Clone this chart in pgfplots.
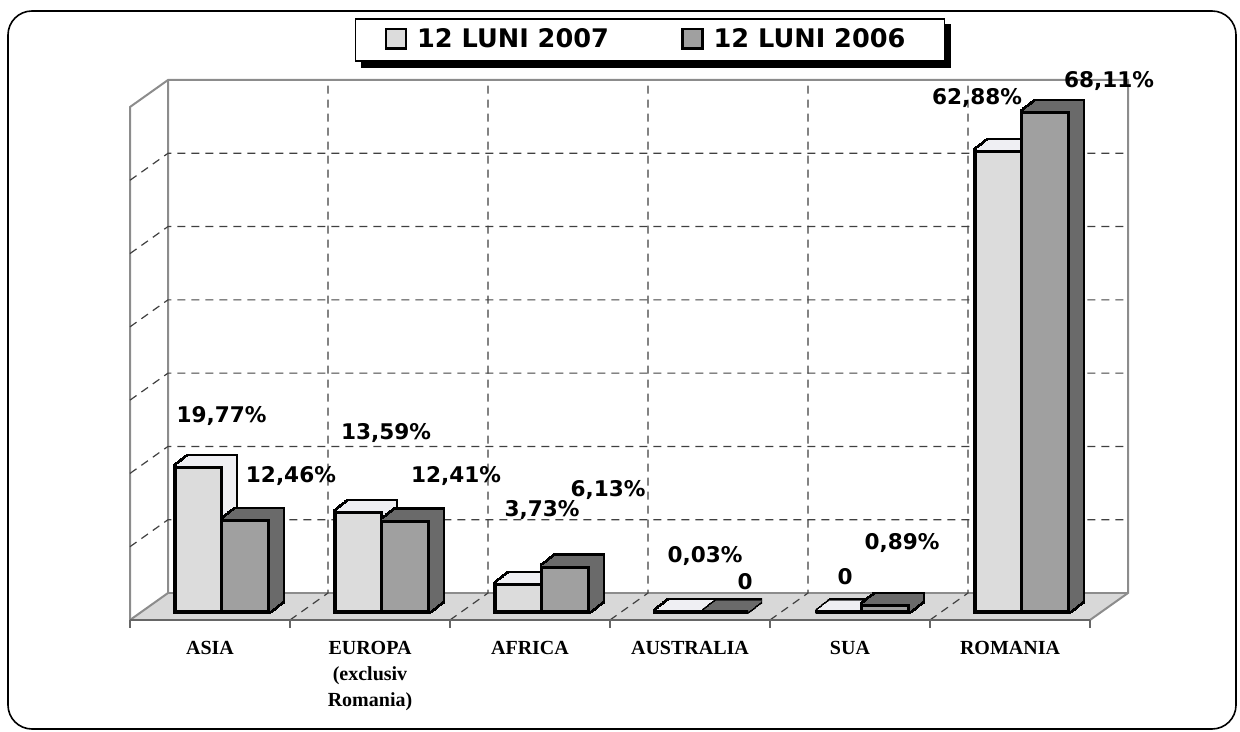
\documentclass[border=0pt]{standalone}
\usepackage{pgfplots}
\pgfplotsset{compat=1.18}
\usepackage{fontspec}
\newfontfamily\djv{DejaVu Sans}
\newfontfamily\tms{Liberation Serif}
\definecolor{frontA}{HTML}{DCDCDC}
\definecolor{sideA}{HTML}{EFEFF3}
\definecolor{frontB}{HTML}{A0A0A0}
\definecolor{sideB}{HTML}{6A6A6A}
\definecolor{floorc}{HTML}{D8D8D8}
\definecolor{wallc}{HTML}{8C8C8C}
\definecolor{gridc}{HTML}{404040}
\tikzset{
  exb/.style={preaction={fill=black,draw=black,line width=2.6pt,transform canvas={shift={(#1*0.35pt,#1*0.275pt)}}}},
  exA/.style={preaction={fill=sideA,draw=sideA,line width=0.5pt,transform canvas={shift={(#1*0.35pt,#1*0.275pt)}}}},
  exB/.style={preaction={fill=sideB,draw=sideB,line width=0.5pt,transform canvas={shift={(#1*0.35pt,#1*0.275pt)}}}},
  bar07/.style={exb/.list={1,...,20},exA/.list={1,...,20},fill=frontA,draw=black,line width=1.5pt},
  bar06/.style={exb/.list={1,...,20},exB/.list={1,...,20},fill=frontB,draw=black,line width=1.5pt},
  back/.style={shift={(13.25pt,9.5pt)}},
  front/.style={shift={(-5.75pt,-4pt)}},
  griddash/.style={draw=gridc,line width=0.6pt,dash pattern=on 4pt off 3pt},
  lbl/.style={font=\djv\bfseries\fontsize{10.8}{12}\selectfont,anchor=base,inner sep=0pt},
}
\begin{document}
\begin{tikzpicture}
\path (0,0) rectangle (620pt,366pt);
\draw[line width=0.8pt,rounded corners=12pt] (4pt,1.5pt) rectangle (618pt,360.5pt);
\begin{axis}[
  at={(70.75pt,60pt)}, anchor=south west,
  scale only axis, width=480pt, height=256.5pt,
  xmin=-0.5, xmax=5.5, ymin=0, ymax=70,
  clip=false,
  axis line style={draw=none},
  major tick length=0pt,
  ytick=\empty,
  xtick={0,1,2,3,4,5},
  xticklabels={ASIA,{EUROPA\\(exclusiv\\Romania)},AFRICA,AUSTRALIA,SUA,ROMANIA},
  xticklabel style={font=\tms\bfseries\fontsize{10}{13}\selectfont,align=center,xshift=-5.75pt,yshift=-11pt},
  legend columns=2,
  legend style={name=leg,at={(0.5297,1.115)},anchor=center,draw=black,line width=0.6pt,fill=white,
     font=\djv\bfseries\fontsize{12.8}{15}\selectfont,
     /tikz/every even column/.append style={column sep=31pt},
     nodes={inner xsep=5pt},
     inner xsep=14.5pt,inner ysep=3pt},
]
% floor
\fill[floorc] ([front]axis cs:-0.5,0) -- ([front]axis cs:5.5,0) -- ([back]axis cs:5.5,0) -- ([back]axis cs:-0.5,0) -- cycle;
% walls
\draw[wallc,line width=1pt] ([front]axis cs:-0.5,0) -- ([front]axis cs:-0.5,70) -- ([back]axis cs:-0.5,70) -- ([back]axis cs:5.5,70) -- ([back]axis cs:5.5,0) -- ([front]axis cs:5.5,0);
\draw[wallc,line width=1pt] ([front]axis cs:-0.5,0) -- ([back]axis cs:-0.5,0) -- ([back]axis cs:-0.5,70);
\draw[wallc,line width=1pt] ([back]axis cs:-0.5,0) -- ([back]axis cs:5.5,0);
% grid
\pgfplotsinvokeforeach{10,20,30,40,50,60}{
  \draw[griddash] ([front]axis cs:-0.5,#1) -- ([back]axis cs:-0.5,#1) -- ([back]axis cs:5.5,#1);
}
\pgfplotsinvokeforeach{0.5,1.5,2.5,3.5,4.5}{
  \draw[griddash] ([front]axis cs:#1,0) -- ([back]axis cs:#1,0) -- ([back]axis cs:#1,70);
}
% front edge and ticks
\draw[black!60,line width=0.8pt] ([front]axis cs:-0.5,0) -- ([front]axis cs:5.5,0);
\pgfplotsinvokeforeach{-0.5,0.5,1.5,2.5,3.5,4.5,5.5}{
  \draw[black!60,line width=0.8pt] ([front]axis cs:#1,0) -- ([front,yshift=-4pt]axis cs:#1,0);
}
% bars
\addplot[ybar,bar width=23.25pt,bar shift=-11.625pt,bar07,forget plot] coordinates {(0,19.77) (1,13.59) (2,3.73) (3,0.03) (4,0) (5,62.88)};
\addplot[ybar,bar width=23.25pt,bar shift=11.625pt,bar06,forget plot] coordinates {(0,12.46) (1,12.41) (2,6.13) (3,0) (4,0.89) (5,68.11)};
% legend
\addlegendimage{legend image code/.code={\draw[fill=frontA,draw=black,line width=1.3pt] (0pt,-4.3pt) rectangle (10pt,5.5pt);}}
\addlegendentry{12 LUNI 2007}
\addlegendimage{legend image code/.code={\draw[fill=frontB,draw=black,line width=1.3pt] (0pt,-4.3pt) rectangle (10pt,5.5pt);}}
\addlegendentry{12 LUNI 2006}
% value labels
\node[lbl] at (axis cs:0.0,25.8) {19,77\%};
\node[lbl] at (axis cs:0.434,17.7) {12,46\%};
\node[lbl] at (axis cs:1.028,23.5) {13,59\%};
\node[lbl] at (axis cs:1.466,17.7) {12,41\%};
\node[lbl] at (axis cs:2.003,13.0) {3,73\%};
\node[lbl] at (axis cs:2.416,15.7) {6,13\%};
\node[lbl] at (axis cs:3.022,6.7) {0,03\%};
\node[lbl] at (axis cs:3.272,3.1) {0};
\node[lbl] at (axis cs:3.897,3.8) {0};
\node[lbl] at (axis cs:4.253,8.5) {0,89\%};
\node[lbl] at (axis cs:4.722,69.2) {62,88\%};
\node[lbl] at (axis cs:5.547,71.6) {68,11\%};
\end{axis}
\fill[black] ([xshift=3pt]leg.south west) rectangle ([xshift=3pt,yshift=-3pt]leg.south east);
\fill[black] ([yshift=-3pt]leg.north east) rectangle ([xshift=3pt,yshift=-3pt]leg.south east);
\end{tikzpicture}
\end{document}
